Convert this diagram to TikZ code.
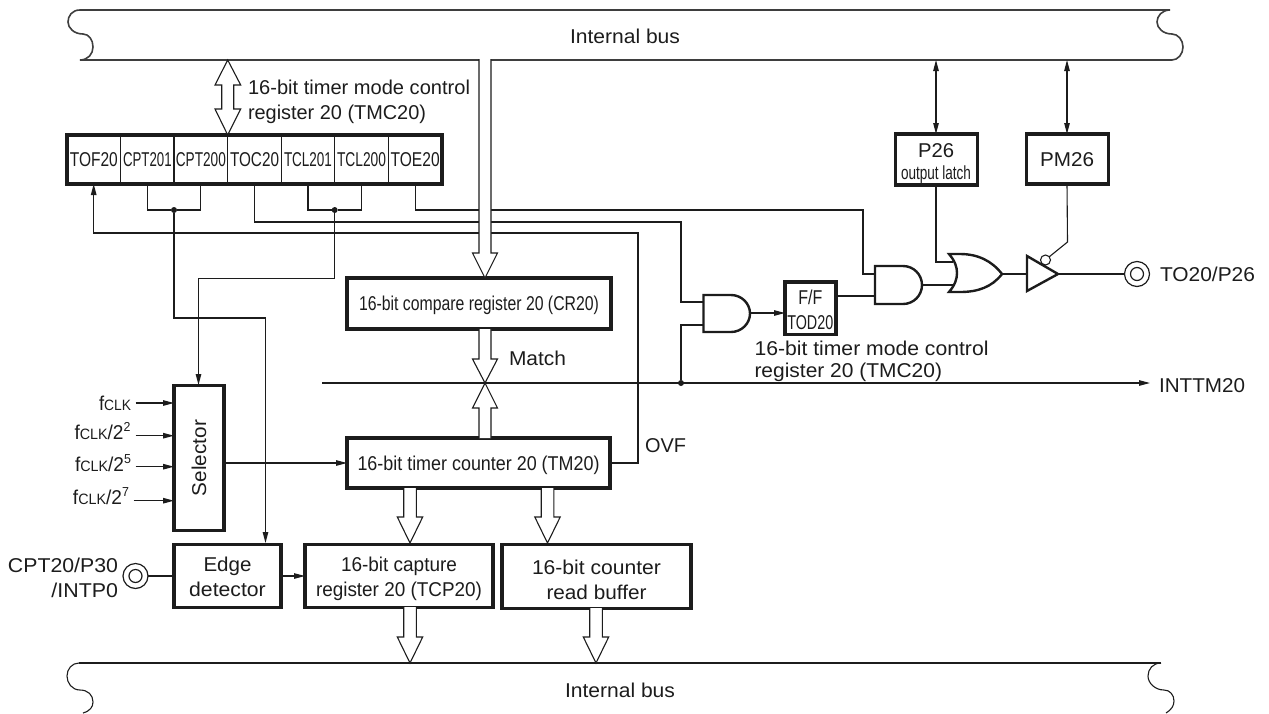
\documentclass[tikz,border=0pt]{standalone}
\usepackage{fontspec}
\usepackage{graphicx}
\setmainfont{Liberation Sans}
\usetikzlibrary{arrows.meta}
\newsavebox\fitbox
\newcommand\fit[2]{\sbox\fitbox{#2}\resizebox{#1pt}{\ht\fitbox}{\usebox\fitbox}}
\newcommand\topstrut[1]{\rule{0pt}{#1pt}}
\newcommand\botstrut{\rule[-5pt]{0pt}{5pt}}
\newcommand\fclk{f{\fontsize{15}{15}\selectfont CLK}}
\newcommand\pw[1]{\raisebox{8pt}{\fontsize{13}{13}\selectfont #1}}
\newcommand\hollow[6]{% x, start, base, tip, half shaft, half head
  \fill[white] (#1-#5,#2) -- (#1-#5,#3) -- (#1-#6,#3) -- (#1,#4) -- (#1+#6,#3) -- (#1+#5,#3) -- (#1+#5,#2) -- cycle;
  \draw[hollowline] (#1-#5,#2) -- (#1-#5,#3) -- (#1-#6,#3) -- (#1,#4) -- (#1+#6,#3) -- (#1+#5,#3) -- (#1+#5,#2);}
\definecolor{ink}{HTML}{1C1C1C}
\tikzset{
  x=1pt,y=-1pt,
  every node/.style={text=ink,font=\fontsize{20}{25}\selectfont,inner sep=0pt,outer sep=0pt},
  thickbox/.style={draw=ink,line width=3.02pt,anchor=center},
  boxed/.style={thickbox,text height=14.3pt,text depth=0pt},
  twoline/.style={thickbox,align=center},
  txt/.style={anchor=base},
  txtl/.style={anchor=base west},
  txtr/.style={anchor=base east},
  wire/.style={draw=ink,line width=1.1pt},
  buswire/.style={draw=ink!85,line width=1.6pt},
  arrowwire/.style={wire,-{Triangle[length=11pt,width=5.5pt]}},
  bothwire/.style={wire,{Triangle[length=11pt,width=5.5pt]}-{Triangle[length=11pt,width=5.5pt]}},
  hollowline/.style={draw=ink,line width=1.1pt},
  gate/.style={draw=ink,line width=2.4pt},
  dot/.style={circle,fill=ink,minimum size=6pt,inner sep=0pt},
  pinout/.style={circle,draw=ink,line width=1.2pt,minimum size=25pt,inner sep=0pt},
  pinin/.style={circle,draw=ink,line width=1.2pt,minimum size=13pt,inner sep=0pt},
}
\begin{document}
\begin{tikzpicture}
\useasboundingbox (0,0) rectangle (1269,713);
% buses
\draw[buswire] (80,10) .. controls (72,10) and (68,16) .. (68,22) .. controls (68,28) and (74,34) .. (83,34) .. controls (89,34) and (93,40) .. (93,47) .. controls (93,54) and (88,60) .. (80,60) -- (1172,60) .. controls (1178,60) and (1183,54) .. (1183,47) .. controls (1183,40) and (1178,34) .. (1172,34) .. controls (1163,34) and (1157,28) .. (1157,22) .. controls (1157,16) and (1162,10) .. (1170,10) -- cycle;
\draw[wire] (79,663) .. controls (72,663) and (67,669) .. (67,676) .. controls (67,683) and (72,690) .. (80,690) .. controls (88,690) and (93,695) .. (93,702) .. controls (93,707) and (90,711) .. (83,713);
\draw[wire] (79,663) -- (1161,663);
\draw[wire] (1161,663) .. controls (1153,663) and (1148,669) .. (1148,676) .. controls (1148,683) and (1155,690) .. (1164,690) .. controls (1170,690) and (1174,695) .. (1174,701) .. controls (1174,706) and (1171,710) .. (1166,713);
\node[txt] (bustop) at (625,43) {\fit{110}{Internal bus}};
\node[txt] (busbot) at (620,697) {\fit{110}{Internal bus}};
% register cells
\foreach \nm/\xa/\xb/\w/\t in {tof/67/120.7/48/TOF20,cpta/120.7/174/48.7/CPT201,cptb/174/227.7/50/CPT200,toc/227.7/281.3/49/TOC20,tcla/281.3/334.7/48/TCL201,tclb/334.7/388.3/49/TCL200,toe/388.3/442/49/TOE20}{
  \node[anchor=center,minimum height=49pt,minimum width={(\xb-\xa)*1pt},draw=ink,line width=1.1pt,text height=14.3pt,text depth=0pt] (\nm) at ({(\xa+\xb)/2},159.5) {\fit{\w}{\t}};
}
\draw[draw=ink,line width=3.02pt] (tof.north west) rectangle (toe.south east);
% boxes
\node[boxed,minimum width=264pt,minimum height=51pt] (cr) at (479,303.5) {\fit{240}{16-bit compare register 20 (CR20)}};
\node[boxed,minimum width=263pt,minimum height=50pt] (tm) at (478.5,463) {\fit{242}{16-bit timer counter 20 (TM20)}};
\node[thickbox,minimum width=50pt,minimum height=145pt] (sel) at (199,458) {\rotatebox{90}{\fit{76}{Selector}}};
\node[twoline,minimum width=107pt,minimum height=63pt] (edge) at (227.5,575.5) {\topstrut{21.4}\fit{48}{Edge}\\\fit{76.6}{detector}\botstrut};
\node[twoline,minimum width=188pt,minimum height=63pt] (tcp) at (399,575.5) {\topstrut{21.4}\fit{116}{16-bit capture}\\\fit{166}{register 20 (TCP20)}\botstrut};
\node[twoline,minimum width=189pt,minimum height=64pt] (rb) at (596.5,576) {\topstrut{26.4}\fit{129}{16-bit counter}\\\fit{100}{read buffer}\botstrut};
\node[twoline,minimum width=82pt,minimum height=51pt,font=\fontsize{20}{22}\selectfont] (p26) at (936,159.5) {\topstrut{22.4}\fit{36}{P26}\\\fit{70}{\fontsize{19}{22}\selectfont output latch}\botstrut};
\node[boxed,minimum width=82pt,minimum height=50pt] (pm26) at (1067,159) {\fit{54}{PM26}};
\node[twoline,minimum width=51pt,minimum height=50pt,line width=3.4pt] (ff) at (810.3,308.3) {\topstrut{22.4}\fit{24}{F/F}\\\fit{46}{TOD20}\botstrut};
% labels
\node[txtl] (lta) at (248,94) {\fit{222}{16-bit timer mode control}};
\node[txtl] (ltb) at (248,119.5) {\fit{178}{register 20 (TMC20)}};
\node[txtl] (lba) at (754.5,355) {\fit{234}{16-bit timer mode control}};
\node[txtl] (lbb) at (754.5,377) {\fit{187.5}{register 20 (TMC20)}};
\node[txtl] (match) at (509,365) {\fit{57}{Match}};
\node[txtl] (ovf) at (645,452) {\fit{41}{OVF}};
\node[txtl] (tolab) at (1160,281) {\fit{95}{TO20/P26}};
\node[txtl] (intlab) at (1159,392) {\fit{86}{INTTM20}};
\node[txtr] (cptla) at (118,572) {\fit{110}{CPT20/P30}};
\node[txtr] (cptlb) at (118,597) {\fit{66.5}{/INTP0}};
\node[txtr] (fa) at (131,410) {\fit{32}{\fclk}};
\node[txtr] (fb) at (130.5,439) {\fit{56}{\fclk/2\pw{2}}};
\node[txtr] (fc) at (131,471) {\fit{56}{\fclk/2\pw{5}}};
\node[txtr] (fd) at (129,504) {\fit{56}{\fclk/2\pw{7}}};
% pins
\node[pinout] (topin) at (1137,274) {};
\node[pinin] (topini) at (1137,274) {};
\node[pinout] (cptpin) at (135.5,576) {};
\node[pinin] (cptpini) at (135.5,576) {};
% gate coordinates
\coordinate (ai1) at (703.5,302);
\coordinate (ai2) at (703.5,325);
\coordinate (ao) at (750,313);
\coordinate (bi1) at (875,274);
\coordinate (bi2) at (875,296);
\coordinate (bo) at (922,285);
\coordinate (oi1) at (953,262);
\coordinate (oi2) at (955,285);
\coordinate (oo) at (1002,274);
\coordinate (bufin) at (1027,274);
\coordinate (bufout) at (1058,274);
\coordinate (bub) at (1045.5,260);
% dots
\node[dot] (dcpt) at (174,210) {};
\node[dot] (dtcl) at (334.7,210) {};
\node[dot] (dint) at (681,383) {};
\coordinate (intstart) at (322,383);
\coordinate (intend) at (1150,383);
% wires
\draw[wire] (cpta.south) |- (dcpt) -| (cptb.south);
\draw[wire] (tcla.south) |- (dtcl) -| (tclb.south);
\draw[arrowwire] (dcpt) -- (174,318) -- (265.5,318) -- (265.5,543);
\draw[arrowwire] (dtcl) -- (334.7,278.5) -- (198.5,278.5) -- (198.5,385);
\draw[wire] (toe.south) |- (863,210) |- (bi1);
\draw[wire] (toc.south) |- (681,222) |- (ai1);
\draw[arrowwire] (tm.east |- 0,463) -- (638,463) -- (638,233) -- (93.7,233) -- (93.7,184);
\draw[wire] (dint) |- (ai2);
\draw[arrowwire] (intstart) -- (intend);
\draw[arrowwire] (ao) -- (785,313);
\draw[wire] (835.5,296) -- (bi2);
\draw[wire] (bo) -- (oi2);
\draw[wire] (p26.south) |- (oi1);
\draw[bothwire] (936,60) -- (p26.north);
\draw[bothwire] (1067,60) -- (pm26.north);
\draw[wire] (pm26.south) -- (1067.5,242) -- (1049,257);
\draw[wire] (oo) -- (bufin);
\draw[wire] (bufout) -- (topin);
\draw[arrowwire] (135.5,403) -- (174,403);
\draw[arrowwire] (135.5,435.7) -- (174,435.7);
\draw[arrowwire] (135.5,466.7) -- (174,466.7);
\draw[arrowwire] (133.5,500.7) -- (174,500.7);
\draw[arrowwire] (224,463) -- (tm.west |- 0,463);
\draw[arrowwire] (281,576) -- (tcp.west |- 0,576);
\draw[wire] (cptpin) -- (edge.west |- 0,576);
% gates
\draw[gate] (703.5,295) -- (731,295) .. controls (741.5,295) and (750,303.4) .. (750,313.5) .. controls (750,323.6) and (741.5,332) .. (731,332) -- (703.5,332) -- cycle;
\draw[gate] (875,266) -- (903,266) .. controls (913.5,266) and (922,274.5) .. (922,285) .. controls (922,295.5) and (913.5,304) .. (903,304) -- (875,304) -- cycle;
\draw[gate] (949,254) .. controls (955,261) and (957,267) .. (957,273) .. controls (957,279) and (955,285) .. (949,292) -- (960,292) .. controls (978,292) and (992,287) .. (1002,274) .. controls (992,261) and (978,254) .. (960,254) -- cycle;
\draw[gate] (1027,256) -- (1058,274) -- (1027,291) -- cycle;
\draw[wire] (bub) circle (5);
% hollow arrows
\hollow{485}{59}{253}{278}{6}{12.5}
\hollow{485}{329}{359}{383}{6}{12.5}
\hollow{485}{438}{408}{383}{6}{12.5}
\hollow{410}{488}{517}{543}{6.3}{12.7}
\hollow{547.5}{488}{517}{543}{6.3}{12.7}
\hollow{410}{607}{637}{663}{6.3}{12.7}
\hollow{596}{608}{637}{663}{6.3}{12.7}
\fill[white] (227.7,60) -- (240.7,85) -- (233.7,85) -- (233.7,109) -- (240.7,109) -- (227.7,135) -- (215,109) -- (221.7,109) -- (221.7,85) -- (215,85) -- cycle;
\draw[hollowline] (227.7,60) -- (240.7,85) -- (233.7,85) -- (233.7,109) -- (240.7,109) -- (227.7,135) -- (215,109) -- (221.7,109) -- (221.7,85) -- (215,85) -- cycle;
\end{tikzpicture}
\end{document}
